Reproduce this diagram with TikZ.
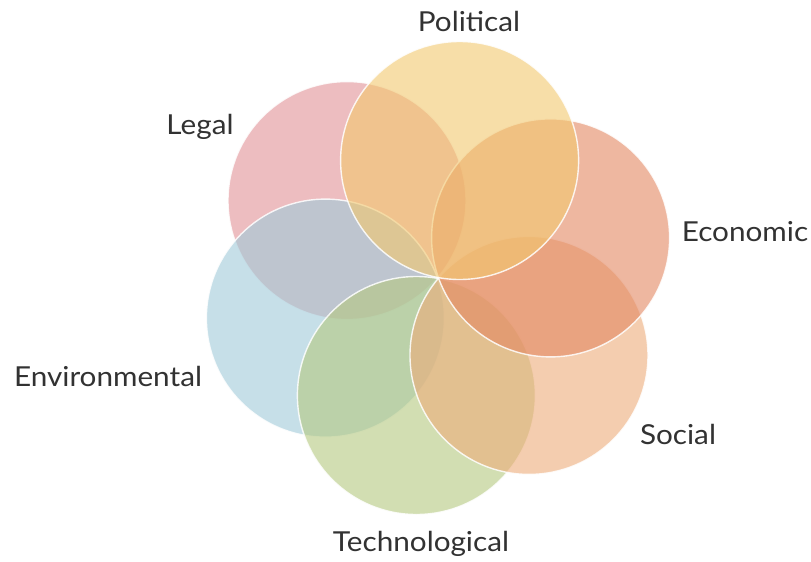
\documentclass[tikz,border=0pt]{standalone}
\usepackage{fontspec}
\setmainfont{Lato}[FakeStretch=1.08]
\definecolor{clegal}{RGB}{226,145,150}
\definecolor{cenv}{RGB}{160,203,218}
\definecolor{ctech}{RGB}{180,200,127}
\definecolor{csocial}{RGB}{238,172,122}
\definecolor{cecon}{RGB}{227,135,97}
\definecolor{cpol}{RGB}{242,200,110}
\definecolor{labelgray}{RGB}{50,50,50}
\begin{document}
\begin{tikzpicture}[x=1pt,y=-1pt,
  petal/.style={fill opacity=0.6, draw=white, draw opacity=0.85, line width=1.4pt},
  lbl/.style={anchor=base, text=labelgray, font=\fontsize{27.5}{31}\selectfont, inner sep=0pt}]
\useasboundingbox (0,0) rectangle (811,562);
\fill[white] (0,0) rectangle (811,562);
\coordinate (P) at (438,278);
\coordinate (cL) at (347.0,200.6);
\coordinate (cEn) at (325.4,318.1);
\coordinate (cT) at (416.4,395.5);
\coordinate (cS) at (529.0,355.4);
\coordinate (cEc) at (550.6,237.9);
\coordinate (cP) at (459.6,160.5);
\path[petal, fill=clegal] (cL) circle[radius=119];
\path[petal, fill=cenv] (cEn) circle[radius=119];
\path[petal, fill=ctech] (cT) circle[radius=119];
\path[petal, fill=csocial] (cS) circle[radius=119];
\path[petal, fill=cecon] (cEc) circle[radius=119];
\path[petal, fill=cpol] (cP) circle[radius=119];
\node[lbl] (political) at (469,31) {Political};
\node[lbl] (legal) at (200,134) {Legal};
\node[lbl] (economic) at (745,241) {Economic};
\node[lbl] (environmental) at (108,386) {Environmental};
\node[lbl] (social) at (678,444) {Social};
\node[lbl] (technological) at (421,551) {Technological};
\end{tikzpicture}
\end{document}
